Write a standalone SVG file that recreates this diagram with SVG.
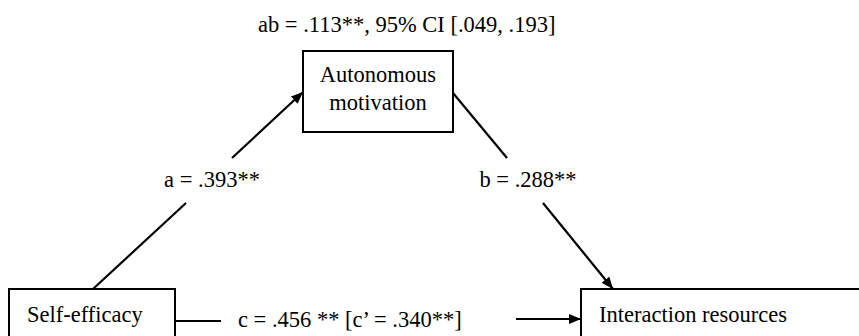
<svg xmlns="http://www.w3.org/2000/svg" width="859" height="336" viewBox="0 0 859 336" font-family="'Liberation Serif', 'Times New Roman', serif">
<style>
text{font-size:22.5px;fill:#000}
.box{fill:#fff;stroke:#000;stroke-width:2}
.ln{stroke:#000;stroke-width:2.2;fill:none}
</style>
<defs>
<marker id="ah" viewBox="0 0 12 10" refX="12" refY="5" markerWidth="12" markerHeight="10" markerUnits="userSpaceOnUse" orient="auto">
<path d="M0,0 L12,5 L0,10 Z" fill="#000"/>
</marker>
</defs>
<rect width="859" height="336" fill="#fff"/>
<text x="258" y="32">ab = .113**, 95% CI [.049, .193]</text>
<g id="connectors">
<line class="ln" x1="93" y1="289" x2="186" y2="203"/>
<line class="ln" x1="232" y1="158" x2="303" y2="92" marker-end="url(#ah)"/>
<line class="ln" x1="453" y1="93" x2="507" y2="158"/>
<line class="ln" x1="543" y1="203" x2="613" y2="289" marker-end="url(#ah)"/>
<line class="ln" x1="175" y1="321" x2="221" y2="321"/>
<line class="ln" x1="516" y1="319" x2="581" y2="319" marker-end="url(#ah)"/>
<text x="212" y="187" text-anchor="middle">a = .393**</text>
<text x="528" y="187" text-anchor="middle">b = .288**</text>
<text x="238" y="327">c = .456 ** [c’ = .340**]</text>
</g>
<g id="autonomous">
<rect class="box" x="303" y="51" width="150" height="81"/>
<text x="378" y="82" text-anchor="middle">Autonomous</text>
<text x="378" y="110" text-anchor="middle">motivation</text>
</g>
<g id="selfefficacy">
<rect class="box" x="9" y="289" width="166" height="60"/>
<text x="27" y="322">Self-efficacy</text>
</g>
<g id="interaction">
<rect class="box" x="581" y="289" width="290" height="60"/>
<text x="599" y="322">Interaction resources</text>
</g>
</svg>
